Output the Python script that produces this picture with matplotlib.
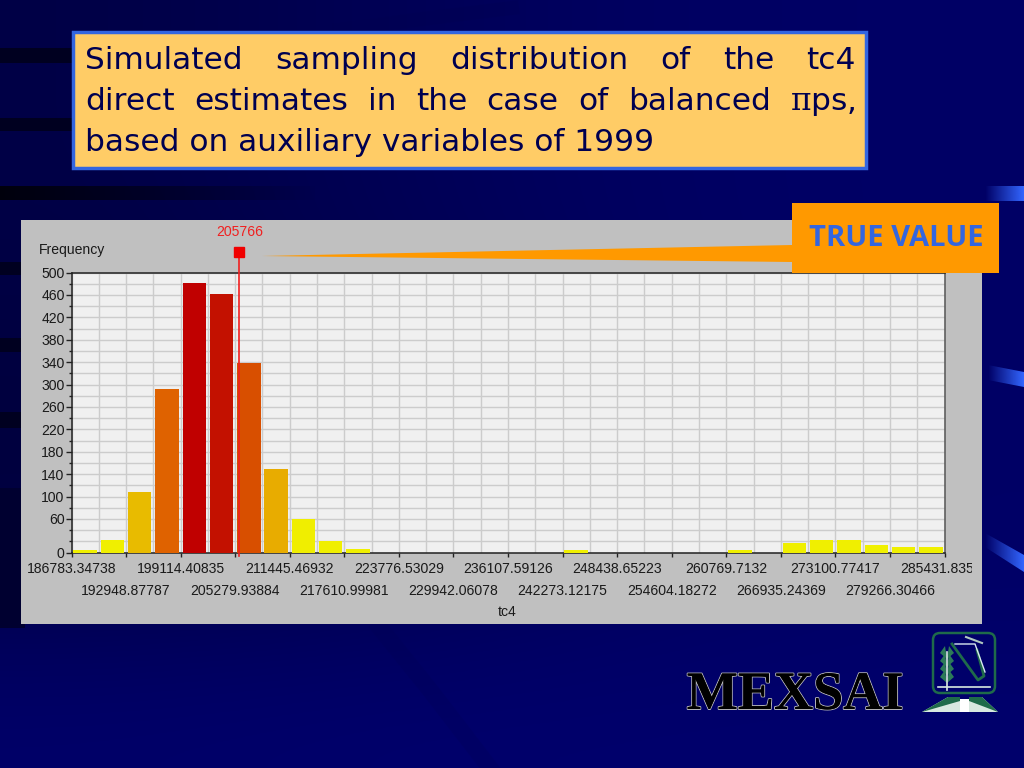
import numpy as np
import matplotlib
matplotlib.use('Agg')
from matplotlib import pyplot as plt
from matplotlib import patheffects
from matplotlib.colors import LinearSegmentedColormap
from matplotlib.patches import FancyBboxPatch, Polygon, Rectangle
from matplotlib.transforms import Bbox

# Datos
first_edge = 186783.34738
bin_width = 3082.76525
frequencies = [4, 22, 108, 292, 482, 461, 339, 149, 60, 20, 6, 0, 0, 0, 0, 0,
               0, 0, 5, 0, 0, 0, 0, 0, 4, 0, 17, 23, 23, 14, 10, 10]
x_tick_labels = ['186783.34738', '192948.87787', '199114.40835', '205279.93884',
                 '211445.46932', '217610.99981', '223776.53029', '229942.06078',
                 '236107.59126', '242273.12175', '248438.65223', '254604.18272',
                 '260769.7132', '266935.24369', '273100.77417', '279266.30466',
                 '285431.83515']
y_tick_values = [0, 60, 100, 140, 180, 220, 260, 300, 340, 380, 420, 460, 500]
true_value = 205766
title_lines = [['Simulated', 'sampling', 'distribution', 'of', 'the', 'tc4'],
               ['direct', 'estimates', 'in', 'the', 'case', 'of', 'balanced', r'$\mathrm{\pi}$ps,'],
               ['based on auxiliary variables of 1999']]
title_baselines = [69, 110, 151]

# Colores de fondo (canal azul) en una malla gruesa
back_blue = [[70, 85, 98, 102],
             [70, 85, 98, 102],
             [62, 72, 95, 102],
             [62, 72, 92, 102],
             [105, 108, 108, 108]]

W, H = 1024, 768
NAVY = '#000066'
plt.rcParams['mathtext.fontset'] = 'dejavuserif'

fig = plt.figure(figsize=(W / 100, H / 100), dpi=100, facecolor=NAVY)


def pixel_axes(zorder):
    ax = fig.add_axes([0, 0, 1, 1], zorder=zorder, facecolor='none')
    ax.set_xlim(0, W)
    ax.set_ylim(H, 0)
    ax.axis('off')
    return ax


# Degradado horizontal de un color hacia transparente
def fade(ax, x0, x1, y0, y1, rgb, reverse=False, clip=None):
    alpha = np.linspace(1, 0, 64)
    if reverse:
        alpha = alpha[::-1]
    rgba = np.ones((1, 64, 4))
    rgba[..., :3] = rgb
    rgba[..., 3] = alpha
    im = ax.imshow(rgba, extent=(x0, x1, y1, y0), aspect='auto', zorder=2)
    if clip is not None:
        im.set_clip_path(Polygon(clip, transform=ax.transData))
    ax.set_xlim(0, W)
    ax.set_ylim(H, 0)


# Fondo de la diapositiva
back = pixel_axes(0)
blue = np.array(back_blue, dtype=float) / 255
rgb = np.zeros(blue.shape + (3,))
rgb[..., 2] = blue
back.imshow(rgb, extent=(0, W, H, 0), aspect='auto', interpolation='bicubic', zorder=0)
back.set_xlim(0, W)
back.set_ylim(H, 0)

for y0, y1 in [(48, 63), (118, 131), (262, 275), (338, 352), (412, 428)]:
    back.add_patch(Rectangle((0, y0), 75, y1 - y0, color='#000020', lw=0, zorder=1))
fade(back, 0, 320, 186, 200, (0, 0, 0.05))
back.add_patch(Rectangle((0, 488), 25, 140, color='#000030', lw=0, zorder=1))
back.plot([380, 430, 490], [628, 690, 768], color='#000050', lw=12, alpha=0.2, zorder=1)
back.plot([340, 430, 512], [30, 18, 8], color='#000050', lw=10, alpha=0.25, zorder=1)

accent = (0.2, 0.4, 1.0)
fade(back, 985, 1024, 186, 201, accent, reverse=True)
fade(back, 988, 1024, 365, 387, accent, reverse=True,
     clip=[(988, 365), (1024, 372), (1024, 387), (988, 380)])
fade(back, 985, 1024, 533, 572, accent, reverse=True,
     clip=[(985, 533), (1024, 555), (1024, 572), (985, 547)])

# Panel gris y caja del titulo
back.add_patch(Rectangle((21, 220), 961, 404, color='#C0C0C0', lw=0, zorder=3))
back.add_patch(Rectangle((73, 32), 793, 136, facecolor='#FFCC66', edgecolor='#3366E0', lw=2.5, zorder=3))

# Grafico principal
left, right, top, bottom = 71.5, 944.5, 272.5, 552.5
ax = fig.add_axes([left / W, 1 - bottom / H, (right - left) / W, (bottom - top) / H],
                  zorder=1, facecolor='#F0F0F0')
edges = first_edge + bin_width * np.arange(len(frequencies) + 1)
centers = (edges[:-1] + edges[1:]) / 2
heat = LinearSegmentedColormap.from_list('heat', [
    (0, '#F0F000'), (0.124, '#F0EE00'), (0.22, '#E8BC00'), (0.31, '#E8AC00'),
    (0.6, '#E06400'), (0.7, '#D85000'), (0.95, '#C41400'), (1, '#C00000')])
values = np.array(frequencies)
ax.bar(centers, values, width=bin_width * 0.86, color=heat(values / values.max()), zorder=3)

ax.set_xlim(edges[0], edges[-1])
ax.set_ylim(0, 500)
ax.set_xticks(edges[::2])
ax.set_xticks(edges, minor=True)
ax.set_yticks(y_tick_values)
ax.set_yticks(np.arange(0, 501, 20), minor=True)
ax.grid(True, which='both', color='#CCCCCC', lw=1.0, zorder=1)
ax.set_axisbelow(True)
ax.tick_params(axis='x', which='major', length=3, width=1, pad=3, color='#222222')
ax.tick_params(axis='x', which='minor', length=0)
ax.tick_params(axis='y', which='major', length=4, width=1, pad=1, color='#222222')
ax.tick_params(axis='y', which='minor', length=2, width=1, color='#222222')

font = {'family': 'Liberation Sans', 'fontsize': 10.1, 'color': '#1A1A1A'}
ax.set_xticklabels(x_tick_labels, **font)
ax.set_yticklabels([str(v) for v in y_tick_values], **font)
# Las etiquetas impares van en una segunda fila
for i, tick in enumerate(ax.xaxis.get_major_ticks()):
    tick.set_pad(20 if i % 2 else 4)
# La ultima etiqueta sale cortada por el borde del control
last_label = ax.get_xticklabels()[-1]
last_label.set_clip_on(True)
last_label.set_clip_box(Bbox([[0, 0], [972, H]]))
for side in ['top', 'left', 'bottom']:
    ax.spines[side].set_color('#222222')
ax.spines['right'].set_color('#555555')
for side in ax.spines:
    ax.spines[side].set_linewidth(1.1)

# Marca del valor verdadero
trans = ax.get_xaxis_transform()
ax.plot([true_value, true_value], [-0.012, 1.075], color='#F02020', lw=1.2, transform=trans,
        clip_on=False, zorder=5)
ax.plot([true_value], [1.075], marker='s', ms=7.5, color='#F00000', transform=trans,
        clip_on=False, zorder=6)
ax.text(true_value, 1.145, str(true_value), color='#F02020', transform=trans, ha='center',
        va='center', family='Liberation Sans', fontsize=10.1)

# Capa superior con textos y recuadros
over = pixel_axes(2)
over.text(39, 250, 'Frequency', ha='left', va='center', **font)
over.text(507, 612, 'tc4', ha='center', va='center', **font)
over.add_patch(Polygon([(262, 256), (792, 245), (792, 262)], color='#FF9900', lw=0))
over.add_patch(Rectangle((792, 203), 207, 70, color='#FF9900', lw=0))
over.text(896, 238, 'TRUE VALUE', ha='center', va='center', color='#3366E0',
          family='Open Sans', fontweight='bold', fontsize=21)

# Titulo justificado palabra por palabra
renderer = fig.canvas.get_renderer()
x_start, x_end = 85, 856
title_font = {'family': 'DejaVu Sans', 'fontsize': 22.5, 'color': '#000050'}
for words, baseline in zip(title_lines, title_baselines):
    labels = [over.text(0, baseline, w, va='baseline', ha='left', **title_font) for w in words]
    widths = [t.get_window_extent(renderer).width for t in labels]
    gap = (x_end - x_start - sum(widths)) / (len(words) - 1) if len(words) > 1 else 0
    x = x_start
    for t, w in zip(labels, widths):
        t.set_x(x)
        x += w + gap

# Logotipo
over.text(795, 709, 'MEXSAI', ha='center', va='baseline', family='Liberation Serif',
          fontweight='bold', fontsize=39, color='black',
          path_effects=[patheffects.withStroke(linewidth=1.4, foreground='#B8B8B8'),
                        patheffects.Normal()])
GREEN = '#1F6B4A'
over.add_patch(FancyBboxPatch((936, 636), 56, 54, boxstyle='round,pad=3,rounding_size=7',
                              facecolor='none', edgecolor=GREEN, lw=1.8))
over.plot([938, 990], [687, 687], color='#D8E8E0', lw=1.2)
over.plot([947, 947], [652, 690], color='#D8E8E0', lw=1.2)
over.plot([952, 978, 984, 977], [644, 680, 676, 650], color=GREEN, lw=2)
over.plot([955, 975, 985], [644, 644, 672], color='#D8E8F0', lw=1.0)
over.plot([966, 982], [637, 643], color='#B0C8C0', lw=1.5)
for y in [652, 660, 668, 676]:
    over.add_patch(Polygon([(947, y + 7), (940, y + 1), (945, y - 6)], color='#2C7A58', lw=0))
    over.add_patch(Polygon([(947, y + 7), (954, y + 1), (949, y - 6)], color='#2C7A58', lw=0))
# Base del emblema: banda verde arriba y parte clara abajo
over.add_patch(Polygon([(922, 712), (948, 697), (960, 697), (960, 712)], color='#D8E8E0', lw=0))
over.add_patch(Polygon([(998, 712), (982, 697), (969, 697), (969, 712)], color='#D8E8E0', lw=0))
over.add_patch(Polygon([(922, 712), (948, 697), (960, 697), (960, 701)], color=GREEN, lw=0))
over.add_patch(Polygon([(998, 712), (982, 697), (969, 697), (969, 701)], color=GREEN, lw=0))
over.add_patch(Rectangle((960, 699), 9, 13, color='white', lw=0))

fig.savefig('out.png', dpi=100, facecolor=fig.get_facecolor())
